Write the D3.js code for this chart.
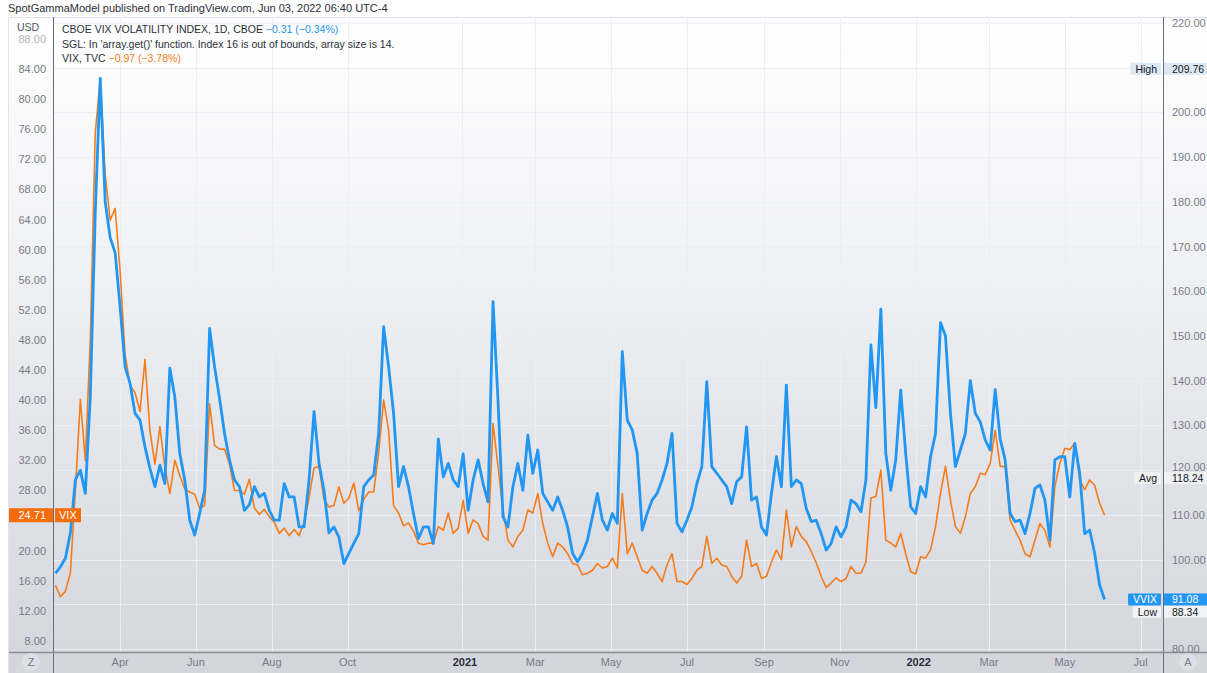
<!DOCTYPE html>
<html>
<head>
<meta charset="utf-8">
<script src="https://cdn.jsdelivr.net/npm/d3@7"></script>
<style>
  html, body { margin: 0; padding: 0; background: #fff; }
  svg { display: block; font-family: "Liberation Sans", Arial, sans-serif; }
</style>
</head>
<body>
<svg id="chart" width="1207" height="673"></svg>
<script>
'use strict';

// Sample dates, one every 4 days (both series share them)
var dates = [
  "2020-02-09","2020-02-13","2020-02-17","2020-02-21","2020-02-25","2020-02-29",
  "2020-03-04","2020-03-08","2020-03-12","2020-03-16","2020-03-20","2020-03-24","2020-03-28",
  "2020-04-01","2020-04-05","2020-04-09","2020-04-13","2020-04-17","2020-04-21","2020-04-25","2020-04-29",
  "2020-05-03","2020-05-07","2020-05-11","2020-05-15","2020-05-19","2020-05-23","2020-05-27","2020-05-31",
  "2020-06-04","2020-06-08","2020-06-12","2020-06-16","2020-06-20","2020-06-24","2020-06-28",
  "2020-07-02","2020-07-06","2020-07-10","2020-07-14","2020-07-18","2020-07-22","2020-07-26","2020-07-30",
  "2020-08-03","2020-08-07","2020-08-11","2020-08-15","2020-08-19","2020-08-23","2020-08-27","2020-08-31",
  "2020-09-04","2020-09-08","2020-09-12","2020-09-16","2020-09-20","2020-09-24","2020-09-28",
  "2020-10-02","2020-10-06","2020-10-10","2020-10-14","2020-10-18","2020-10-22","2020-10-26","2020-10-30",
  "2020-11-03","2020-11-07","2020-11-11","2020-11-15","2020-11-19","2020-11-23","2020-11-27",
  "2020-12-01","2020-12-05","2020-12-09","2020-12-13","2020-12-17","2020-12-21","2020-12-25","2020-12-29",
  "2021-01-02","2021-01-06","2021-01-10","2021-01-14","2021-01-18","2021-01-22","2021-01-26","2021-01-30",
  "2021-02-03","2021-02-07","2021-02-11","2021-02-15","2021-02-19","2021-02-23","2021-02-27",
  "2021-03-03","2021-03-07","2021-03-11","2021-03-15","2021-03-19","2021-03-23","2021-03-27","2021-03-31",
  "2021-04-04","2021-04-08","2021-04-12","2021-04-16","2021-04-20","2021-04-24","2021-04-28",
  "2021-05-02","2021-05-06","2021-05-10","2021-05-14","2021-05-18","2021-05-22","2021-05-26","2021-05-30",
  "2021-06-03","2021-06-07","2021-06-11","2021-06-15","2021-06-19","2021-06-23","2021-06-27",
  "2021-07-01","2021-07-05","2021-07-09","2021-07-13","2021-07-17","2021-07-21","2021-07-25","2021-07-29",
  "2021-08-02","2021-08-06","2021-08-10","2021-08-14","2021-08-18","2021-08-22","2021-08-26","2021-08-30",
  "2021-09-03","2021-09-07","2021-09-11","2021-09-15","2021-09-19","2021-09-23","2021-09-27",
  "2021-10-01","2021-10-05","2021-10-09","2021-10-13","2021-10-17","2021-10-21","2021-10-25","2021-10-29",
  "2021-11-02","2021-11-06","2021-11-10","2021-11-14","2021-11-18","2021-11-22","2021-11-26","2021-11-30",
  "2021-12-04","2021-12-08","2021-12-12","2021-12-16","2021-12-20","2021-12-24","2021-12-28",
  "2022-01-01","2022-01-05","2022-01-09","2022-01-13","2022-01-17","2022-01-21","2022-01-25","2022-01-29",
  "2022-02-02","2022-02-06","2022-02-10","2022-02-14","2022-02-18","2022-02-22","2022-02-26",
  "2022-03-02","2022-03-06","2022-03-10","2022-03-14","2022-03-18","2022-03-22","2022-03-26","2022-03-30",
  "2022-04-03","2022-04-07","2022-04-11","2022-04-15","2022-04-19","2022-04-23","2022-04-27",
  "2022-05-01","2022-05-05","2022-05-09","2022-05-13","2022-05-17","2022-05-21","2022-05-25","2022-05-29",
  "2022-06-02"
];

// VIX, TVC (orange, left scale)
var vixValues = [
  15.4, 13.9, 14.6, 17.1, 28.0, 40.1,
  32.0, 48.0, 75.5, 82.7, 70.0, 63.9, 65.5,
  57.1, 46.0, 42.0, 41.0, 38.5, 45.4, 35.9, 31.5,
  36.5, 31.0, 27.6, 32.0, 30.0, 28.2, 27.8, 27.5,
  25.6, 26.0, 39.5, 34.0, 33.5, 33.5, 31.5,
  28.0, 28.0, 27.5, 29.5, 25.7, 24.8, 25.5, 24.5,
  23.8, 22.3, 23.0, 22.0, 22.8, 22.0, 23.8, 27.0,
  31.0, 31.2, 26.8, 25.8, 26.0, 28.5, 26.3,
  27.0, 29.0, 25.3, 26.8, 27.8, 27.8, 33.0, 40.0,
  36.0, 26.0, 25.0, 23.3, 23.7, 22.6, 21.0,
  20.8, 21.0, 21.0, 23.2, 22.7, 25.0, 22.3, 23.0,
  26.7, 22.3, 24.1, 23.6, 21.9, 21.4, 36.9, 31.2,
  25.4, 21.4, 20.5, 21.9, 22.7, 25.4, 25.0,
  27.6, 23.6, 21.0, 19.2, 21.0, 20.5, 19.6, 18.3,
  18.1, 16.8, 17.0, 17.4, 18.3, 17.7, 17.9,
  19.0, 17.7, 27.6, 19.6, 21.0, 19.2, 17.4, 17.0,
  17.9, 17.0, 15.9, 18.1, 19.6, 15.9, 15.9,
  15.5, 16.3, 17.4, 17.9, 21.9, 18.3, 19.0, 18.1,
  17.9, 16.6, 15.7, 16.6, 21.4, 17.9, 18.3, 16.3,
  16.6, 18.5, 20.1, 18.8, 25.4, 20.5, 23.2,
  21.9, 21.2, 19.9, 18.4, 16.6, 15.1, 15.7, 16.4,
  15.9, 16.3, 17.9, 17.0, 17.0, 18.5, 27.0, 27.2,
  30.7, 21.4, 21.0, 20.5, 22.3, 19.6, 17.2,
  16.9, 19.2, 19.0, 20.1, 23.2, 27.6, 31.2, 26.7,
  23.2, 22.3, 24.5, 27.6, 28.5, 30.3, 30.1,
  31.6, 36.0, 31.2, 31.2, 24.1, 22.7, 21.4, 19.6,
  19.2, 21.4, 23.6, 22.7, 20.5, 28.5, 31.6,
  33.6, 33.4, 34.3, 29.4, 28.1, 29.4, 28.7, 26.3,
  24.71
];

// CBOE VVIX (blue, right scale)
var vvixValues = [
  96.9, 98.4, 100.3, 106.0, 117.8, 120.0,
  114.8, 136.4, 177.5, 207.6, 180.0, 172.0, 168.6,
  156.5, 143.1, 139.4, 132.7, 131.2, 125.2, 120.4, 116.3,
  121.1, 117.0, 142.8, 136.4, 123.7, 117.8, 108.8, 105.5,
  110.3, 115.5, 151.7, 143.1, 136.0, 128.2, 122.3,
  117.8, 116.3, 111.0, 112.3, 116.3, 114.0, 114.8, 111.0,
  108.8, 108.8, 117.0, 114.0, 114.0, 107.3, 107.3, 117.8,
  133.1, 121.5, 115.5, 106.0, 107.3, 105.0, 99.1,
  101.4, 103.6, 105.8, 116.3, 117.8, 118.9, 128.2, 152.1,
  143.1, 132.7, 116.3, 120.8, 116.3, 110.3, 104.7,
  107.3, 107.3, 103.6, 127.0, 118.5, 121.5, 117.8, 116.3,
  123.7, 111.0, 117.8, 122.3, 117.0, 112.9, 157.7, 135.7,
  109.6, 107.3, 116.3, 121.5, 115.5, 127.8, 119.3,
  124.5, 114.8, 112.9, 111.0, 114.0, 111.0, 107.3, 101.4,
  99.5, 101.4, 104.4, 109.6, 114.8, 108.8, 106.6,
  110.3, 108.1, 146.5, 131.2, 129.0, 123.7, 106.6, 110.3,
  113.3, 114.8, 117.8, 121.5, 128.2, 108.1, 106.2,
  108.8, 111.8, 117.0, 120.8, 139.8, 120.8, 119.3, 117.8,
  116.3, 112.5, 117.4, 118.5, 129.7, 113.3, 114.0, 107.3,
  105.5, 114.8, 123.0, 116.3, 139.0, 116.3, 117.8,
  117.0, 111.4, 108.5, 108.8, 105.8, 102.1, 103.6, 107.3,
  105.1, 107.3, 113.3, 112.5, 110.7, 117.8, 148.0, 134.0,
  156.0, 123.7, 115.5, 122.3, 137.9, 123.7, 111.8,
  110.3, 116.3, 114.0, 123.0, 128.2, 153.0, 150.0, 132.7,
  120.8, 124.5, 128.2, 140.0, 132.7, 130.8, 126.7,
  124.5, 138.0, 127.0, 122.3, 110.3, 108.5, 108.8, 105.8,
  110.3, 115.9, 116.7, 113.3, 104.4, 122.3, 123.0,
  123.0, 114.0, 126.0, 119.3, 105.8, 106.6, 101.4, 94.3,
  91.08
];

var leftTicks  = [8, 12, 16, 20, 24, 28, 32, 36, 40, 44, 48, 52, 56, 60, 64, 68, 72, 76, 80, 84, 88];
var rightTicks = [80, 90, 100, 110, 120, 130, 140, 150, 160, 170, 180, 190, 200, 210, 220];

var monthTicks  = ["2020-04-01","2020-06-01","2020-08-01","2020-10-01","2021-01-01","2021-03-01",
                   "2021-05-01","2021-07-01","2021-09-01","2021-11-01","2022-01-01","2022-03-01",
                   "2022-05-01","2022-07-01"];
var monthLabels = ["Apr","Jun","Aug","Oct","2021","Mar","May","Jul","Sep","Nov","2022","Mar","May","Jul"];

// High / Avg / Low markers on the right scale
var statNames  = ["High", "Avg", "Low"];
var statValues = [209.76, 118.24, 88.34];

var W = 1207, H = 673;
var plot = { left: 53, right: 1163, top: 17, bottom: 652 };

var BLUE   = "#2196f3";
var ORANGE = "#f57c1a";
var TEXT   = "#131722";
var MUTED  = "#787b86";

var parse = d3.utcParse("%Y-%m-%d");

var rows = dates.map(function (s, i) {
  return { date: parse(s), vix: vixValues[i], vvix: vvixValues[i] };
});

var lastVvix = vvixValues[vvixValues.length - 1];
var lastVix  = vixValues[vixValues.length - 1];

var x = d3.scaleUtc()
  .domain([parse("2020-02-07"), parse("2022-07-19")])
  .range([plot.left, plot.right]);

var yLeft  = d3.scaleLinear().domain([8, 84]).range([641, 69]);
var yRight = d3.scaleLinear().domain([80, 220]).range([649, 23]);

var svg = d3.select("#chart");
var defs = svg.append("defs");

var grad = defs.append("linearGradient")
  .attr("id", "bg").attr("x1", 0).attr("y1", 0).attr("x2", 0).attr("y2", 1);
grad.append("stop").attr("offset", "0%").attr("stop-color", "#ffffff");
grad.append("stop").attr("offset", "40%").attr("stop-color", "#f0f1f4");
grad.append("stop").attr("offset", "100%").attr("stop-color", "#d4d7de");

defs.append("clipPath").attr("id", "plotClip")
  .append("rect")
  .attr("x", plot.left).attr("y", plot.top)
  .attr("width", plot.right - plot.left).attr("height", plot.bottom - plot.top);

// page + panel background
svg.append("rect").attr("width", W).attr("height", H).attr("fill", "#fff");
svg.append("rect")
  .attr("x", 9).attr("y", plot.top)
  .attr("width", W - 9).attr("height", plot.bottom - plot.top)
  .attr("fill", "url(#bg)");
svg.append("rect")
  .attr("x", 9).attr("y", plot.bottom)
  .attr("width", W - 9).attr("height", H - plot.bottom)
  .attr("fill", "#d3d6dd");

svg.append("line")
  .attr("x1", 9).attr("x2", W).attr("y1", plot.top + 0.5).attr("y2", plot.top + 0.5)
  .attr("stroke", "#e0e3eb");
svg.append("line")
  .attr("x1", 8.5).attr("x2", 8.5).attr("y1", plot.top).attr("y2", H)
  .attr("stroke", "#e0e3eb");

// header
svg.append("text")
  .attr("x", 8).attr("y", 12)
  .style("font-size", "11px").style("fill", "#2a2e39")
  .text("SpotGammaModel published on TradingView.com, Jun 03, 2022 06:40 UTC-4");

// grid
var grid = svg.append("g").attr("clip-path", "url(#plotClip)");

grid.selectAll("line.v")
  .data(monthTicks)
  .enter().append("line")
  .attr("class", "v")
  .attr("x1", function (d) { return Math.round(x(parse(d))) + 0.5; })
  .attr("x2", function (d) { return Math.round(x(parse(d))) + 0.5; })
  .attr("y1", plot.top).attr("y2", plot.bottom)
  .attr("stroke", "#eceef3");

grid.selectAll("line.h")
  .data(rightTicks)
  .enter().append("line")
  .attr("class", "h")
  .attr("x1", plot.left).attr("x2", plot.right)
  .attr("y1", function (d) { return Math.round(yRight(d)) + 0.5; })
  .attr("y2", function (d) { return Math.round(yRight(d)) + 0.5; })
  .attr("stroke", "#eceef3");

// series
var lines = svg.append("g").attr("clip-path", "url(#plotClip)");

var vixLine = d3.line()
  .x(function (d) { return x(d.date); })
  .y(function (d) { return yLeft(d.vix); });

var vvixLine = d3.line()
  .x(function (d) { return x(d.date); })
  .y(function (d) { return yRight(d.vvix); });

lines.append("path")
  .datum(rows)
  .attr("d", vixLine)
  .attr("fill", "none")
  .attr("stroke", ORANGE)
  .attr("stroke-width", 1.6)
  .attr("stroke-linejoin", "round");

lines.append("path")
  .datum(rows)
  .attr("d", vvixLine)
  .attr("fill", "none")
  .attr("stroke", BLUE)
  .attr("stroke-width", 2.8)
  .attr("stroke-linejoin", "round");

// axis lines
svg.append("line")
  .attr("x1", plot.left + 0.5).attr("x2", plot.left + 0.5).attr("y1", plot.top).attr("y2", H)
  .attr("stroke", "#6a6d78");
svg.append("line")
  .attr("x1", plot.right + 0.5).attr("x2", plot.right + 0.5).attr("y1", plot.top).attr("y2", H)
  .attr("stroke", "#6a6d78");
svg.append("line")
  .attr("x1", 9).attr("x2", W).attr("y1", plot.bottom + 0.5).attr("y2", plot.bottom + 0.5)
  .attr("stroke", "#8a8d96").attr("stroke-width", 1.5);

// left axis labels (the one under the last-value tag is hidden, as on the chart)
svg.selectAll("text.left")
  .data(leftTicks.filter(function (d) { return Math.abs(yLeft(d) - yLeft(lastVix)) > 10; }))
  .enter().append("text")
  .attr("class", "left")
  .attr("x", 46)
  .attr("y", function (d) { return yLeft(d) + 4; })
  .attr("text-anchor", "end")
  .style("font-size", "11px")
  .style("fill", MUTED)
  .style("opacity", function (d) { return d === 88 ? 0.55 : 1; })
  .text(function (d) { return d.toFixed(2); });

svg.append("text")
  .attr("x", 17).attr("y", 31)
  .style("font-size", "10.5px").style("fill", "#50535e")
  .text("USD");

// right axis labels; a label sitting just above a stat tag is nudged up to clear it
var avgY = yRight(statValues[1]);

svg.selectAll("text.right")
  .data(rightTicks.filter(function (d) { return Math.abs(yRight(d) - yRight(lastVvix)) > 10; }))
  .enter().append("text")
  .attr("class", "right")
  .attr("x", 1172)
  .attr("y", function (d) {
    var y = yRight(d) + 4;
    var gap = avgY - yRight(d);
    return (gap > 0 && gap < 12) ? avgY - 7 : y;
  })
  .style("font-size", "11px")
  .style("fill", MUTED)
  .text(function (d) { return d.toFixed(2); });

// bottom axis labels
svg.selectAll("text.month")
  .data(monthTicks)
  .enter().append("text")
  .attr("class", "month")
  .attr("x", function (d, i) { return x(parse(d)) + (/^20/.test(monthLabels[i]) ? 3 : 0); })
  .attr("y", 666)
  .attr("text-anchor", "middle")
  .style("font-size", "11px")
  .style("font-weight", function (d, i) { return /^20/.test(monthLabels[i]) ? "bold" : "normal"; })
  .style("fill", function (d, i) { return /^20/.test(monthLabels[i]) ? "#2a2e39" : MUTED; })
  .text(function (d, i) { return monthLabels[i]; });

[["Z", 31], ["A", 1188]].forEach(function (b) {
  svg.append("circle").attr("cx", b[1]).attr("cy", 662).attr("r", 9).attr("fill", "#dcdfe5");
  svg.append("text")
    .attr("x", b[1]).attr("y", 666)
    .attr("text-anchor", "middle")
    .style("font-size", "11px").style("fill", MUTED)
    .text(b[0]);
});

// legend
var legend = svg.append("g").style("font-size", "10.5px").style("fill", "#2a2e39");

var l1 = legend.append("text").attr("x", 62).attr("y", 33);
l1.append("tspan").text("CBOE VIX VOLATILITY INDEX, 1D, CBOE ");
l1.append("tspan").style("fill", BLUE).text(" \u22120.31 (\u22120.34%)");

legend.append("text").attr("x", 62).attr("y", 48)
  .text("SGL: In 'array.get()' function. Index 16 is out of bounds, array size is 14.");

var l3 = legend.append("text").attr("x", 62).attr("y", 62);
l3.append("tspan").text("VIX, TVC ");
l3.append("tspan").style("fill", ORANGE).text(" \u22120.97 (\u22123.78%)");

// price tags
var TAG_H = 12;

function tag(xRight, cy, label, fill, color) {
  var t = svg.append("text")
    .attr("x", xRight - 4).attr("y", cy + 4)
    .attr("text-anchor", "end")
    .style("font-size", "10.5px").style("fill", color)
    .text(label);
  var w = t.node().getComputedTextLength() + 9;
  svg.insert("rect", function () { return t.node(); })
    .attr("x", xRight - w).attr("y", cy - TAG_H / 2)
    .attr("width", w).attr("height", TAG_H)
    .attr("rx", 1)
    .attr("fill", fill);
}

function valueTag(cy, value, fill, color) {
  svg.append("rect")
    .attr("x", plot.right + 1).attr("y", cy - TAG_H / 2)
    .attr("width", W - plot.right - 1).attr("height", TAG_H)
    .attr("fill", fill);
  svg.append("text")
    .attr("x", 1172).attr("y", cy + 4)
    .style("font-size", "10.5px").style("fill", color)
    .text(value.toFixed(2));
}

var statFill = { "High": "#dce8f6", "Avg": "#eef0f4", "Low": "#f2f3f6" };

statNames.forEach(function (name, i) {
  var cy = yRight(statValues[i]);
  tag(plot.right - 2, cy, name, statFill[name], TEXT);
  valueTag(cy, statValues[i], statFill[name], TEXT);
});

tag(plot.right - 2, yRight(lastVvix), "VVIX", BLUE, "#fff");
valueTag(yRight(lastVvix), lastVvix, BLUE, "#fff");

svg.append("rect")
  .attr("x", 9).attr("y", yLeft(lastVix) - 7)
  .attr("width", plot.left - 9).attr("height", 14)
  .attr("fill", "#f56c0a");
svg.append("text")
  .attr("x", 46).attr("y", yLeft(lastVix) + 4)
  .attr("text-anchor", "end")
  .style("font-size", "11px").style("fill", "#fff")
  .text(lastVix.toFixed(2));
svg.append("rect")
  .attr("x", plot.left + 2).attr("y", yLeft(lastVix) - 7)
  .attr("width", 26).attr("height", 14)
  .attr("fill", "#f56c0a");
svg.append("text")
  .attr("x", plot.left + 6).attr("y", yLeft(lastVix) + 4)
  .style("font-size", "11px").style("fill", "#fff")
  .text("VIX");
</script>
</body>
</html>
